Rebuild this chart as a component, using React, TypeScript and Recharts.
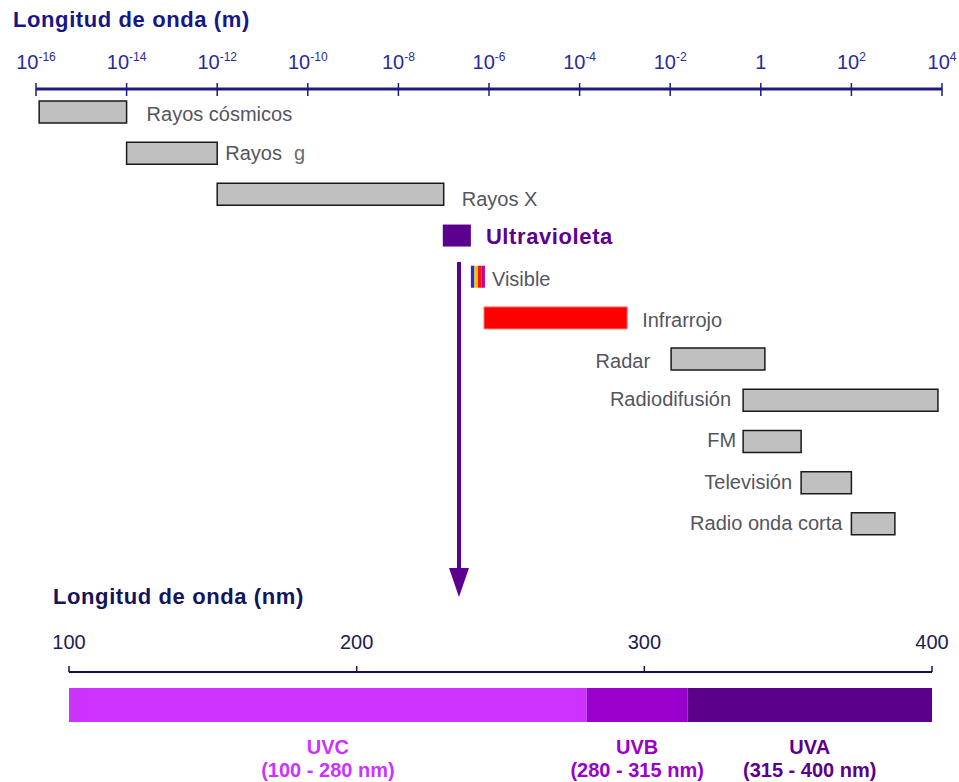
import React from 'react';
import { BarChart, Bar, XAxis, YAxis, LabelList, Rectangle } from 'recharts';

// wavelength bands, in powers of ten (metres)
const bandNames = [
  'Rayos cósmicos',
  'Rayos g',
  'Rayos X',
  'Ultravioleta',
  'Visible',
  'Infrarrojo',
  'Radar',
  'Radiodifusión',
  'FM',
  'Televisión',
  'Radio onda corta',
];
const bandFrom = [-15.93, -14, -12, -7.02, -6.4, -6.11, -1.98, -0.39, -0.39, 0.89, 2.0];
const bandTo = [-14, -12, -7.0, -6.4, -6.09, -2.95, 0.09, 3.91, 0.89, 2.0, 2.96];
const expTicks = [-16, -14, -12, -10, -8, -6, -4, -2, 0, 2, 4];

// ultraviolet detail (nm)
const uvNames = ['UVC', 'UVB', 'UVA'];
const uvFrom = [100, 280, 315];
const uvTo = [280, 315, 400];
const nmTicks = [100, 200, 300, 400];

const spectrum = bandNames.map((name, i) => ({ name, range: [bandFrom[i], bandTo[i]] }));
const uvRow = [
  uvNames.reduce((row: any, n, i) => ({ ...row, [n]: [uvFrom[i], uvTo[i]] }), { row: 'UV' }),
];

const FONT = '"Liberation Sans", Arial, sans-serif';
const NAVY = '#1c1c80';
const AXIS_Y = 89;
// bottom chart is placed at top=620, so its axis sits at 52 inside its own svg
const UV_TOP = 620;
const AXIS2_Y = 672 - UV_TOP;

const barLook: Record<string, any> = {
  Ultravioleta: { fill: '#5c0090', stroke: 'none' },
  Infrarrojo: { fill: '#ff0000', stroke: '#ff7070', strokeWidth: 1 },
};
const grayLook = { fill: '#c0c0c0', stroke: '#1a1a1a', strokeWidth: 1.5 };
const visibleStripes = ['#2b2bdc', '#f5c400', '#f01818', '#c8008c'];

const labelLook: Record<string, { side: 'left' | 'right'; gap: number; dy: number }> = {
  'Rayos cósmicos': { side: 'right', gap: 20, dy: 2 },
  'Rayos g': { side: 'right', gap: 8, dy: 0 },
  'Rayos X': { side: 'right', gap: 18, dy: 5 },
  Ultravioleta: { side: 'right', gap: 15, dy: 1 },
  Visible: { side: 'right', gap: 7, dy: 2 },
  Infrarrojo: { side: 'right', gap: 15, dy: 2 },
  Radar: { side: 'left', gap: 21, dy: 2 },
  'Radiodifusión': { side: 'left', gap: 12, dy: -1 },
  FM: { side: 'left', gap: 7, dy: -1 },
  'Televisión': { side: 'left', gap: 9, dy: -1 },
  'Radio onda corta': { side: 'left', gap: 9, dy: -1 },
};

const uvColors = ['#cc33ff', '#9900cc', '#5c008c'];

const BandShape = (props: any) => {
  const { x, y, width, height, index } = props;
  const name = spectrum[index].name;
  if (name === 'Visible') {
    const w = width / visibleStripes.length;
    return (
      <g>
        {visibleStripes.map((c, i) => (
          <rect key={c} x={x + i * w} y={y} width={w} height={height} fill={c} />
        ))}
      </g>
    );
  }
  const look = barLook[name] || grayLook;
  return <Rectangle x={x} y={y} width={width} height={height} {...look} />;
};

const BandLabel = (props: any) => {
  const { x, y, width, height, index } = props;
  const name = spectrum[index].name;
  const lk = labelLook[name];
  const isUv = name === 'Ultravioleta';
  const tx = lk.side === 'right' ? x + width + lk.gap : x - lk.gap;
  const ty = y + height / 2 + 7 + lk.dy;
  return (
    <text
      x={tx}
      y={ty}
      textAnchor={lk.side === 'right' ? 'start' : 'end'}
      fontFamily={FONT}
      fontSize={isUv ? 22 : 20}
      fontWeight={isUv ? 'bold' : 'normal'}
      fill={isUv ? '#5c0090' : '#555560'}
      letterSpacing={isUv ? 0.6 : 0}
    >
      {name === 'Rayos g' ? (
        <>
          Rayos<tspan dx={12} fill="#6a6a6a">g</tspan>
        </>
      ) : (
        name
      )}
    </text>
  );
};

const ExpTick = (props: any) => {
  const { x, payload } = props;
  const v = payload.value;
  return (
    <g>
      <line x1={x} x2={x} y1={AXIS_Y - 6} y2={AXIS_Y + 7} stroke={NAVY} strokeWidth={1.5} />
      <text x={x} y={69} textAnchor="middle" fontFamily={FONT} fontSize={20} fill="#2a2aa0">
        {v === 0 ? (
          '1'
        ) : (
          <>
            10
            <tspan fontSize={12} dy={-8}>
              {String(v)}
            </tspan>
          </>
        )}
      </text>
    </g>
  );
};

const NmTick = (props: any) => {
  const { x, payload } = props;
  return (
    <g>
      <line x1={x} x2={x} y1={AXIS2_Y - 6} y2={AXIS2_Y} stroke="#10105a" strokeWidth={1.5} />
      <text x={x} y={AXIS2_Y - 23} textAnchor="middle" fontFamily={FONT} fontSize={20} fill="#20204e">
        {payload.value}
      </text>
    </g>
  );
};

const uvLabel = (i: number) => (props: any) => {
  const { x, y, width, height } = props;
  const cx = x + width / 2;
  return (
    <g fontFamily={FONT} fontSize={20} fontWeight="bold" fill={uvColors[i]} textAnchor="middle">
      <text x={cx} y={y + height + 32}>{uvNames[i]}</text>
      <text x={cx} y={y + height + 55}>{`(${uvFrom[i]} - ${uvTo[i]} nm)`}</text>
    </g>
  );
};

export default function App() {
  return (
    <div style={{ position: 'relative', width: 959, height: 782, background: '#fff', fontFamily: FONT }}>
      <style>{'body{margin:0}'}</style>

      <div
        style={{
          position: 'absolute',
          left: 13,
          top: 6,
          fontSize: 22,
          fontWeight: 'bold',
          color: '#161688',
          letterSpacing: 0.6,
          lineHeight: '28px',
        }}
      >
        Longitud de onda (m)
      </div>

      <div style={{ position: 'absolute', left: 0, top: 0 }}>
        <BarChart
          width={959}
          height={560}
          data={spectrum}
          layout="vertical"
          margin={{ top: 49, right: 17, left: 36, bottom: 16 }}
          barSize={22}
        >
          <XAxis
            type="number"
            orientation="top"
            domain={[-16, 4]}
            ticks={expTicks}
            height={40}
            interval={0}
            axisLine={{ stroke: NAVY, strokeWidth: 3 }}
            tickLine={false}
            tick={<ExpTick />}
          />
          <YAxis type="category" dataKey="name" hide padding={{ top: 2, bottom: 0 }} />
          <Bar dataKey="range" isAnimationActive={false} shape={<BandShape />}>
            <LabelList dataKey="name" content={<BandLabel />} />
          </Bar>
        </BarChart>
      </div>

      <div
        style={{
          position: 'absolute',
          left: 53,
          top: 583,
          fontSize: 22,
          fontWeight: 'bold',
          color: '#14145c',
          letterSpacing: 0.6,
          lineHeight: '28px',
        }}
      >
        Longitud de onda (nm)
      </div>

      <div style={{ position: 'absolute', left: 0, top: UV_TOP }}>
        <BarChart
          width={959}
          height={162}
          data={uvRow}
          layout="vertical"
          margin={{ top: 12, right: 27, left: 69, bottom: 44 }}
          barSize={34}
          barGap={-34}
        >
          <XAxis
            type="number"
            orientation="top"
            domain={[100, 400]}
            ticks={nmTicks}
            height={40}
            interval={0}
            axisLine={{ stroke: '#10105a', strokeWidth: 2 }}
            tickLine={false}
            tick={<NmTick />}
          />
          <YAxis type="category" dataKey="row" hide />
          {uvNames.map((n, i) => (
            <Bar key={n} dataKey={n} fill={uvColors[i]} barSize={34} isAnimationActive={false}>
              <LabelList dataKey={n} content={uvLabel(i)} />
            </Bar>
          ))}
        </BarChart>
      </div>

      <svg
        width={959}
        height={782}
        style={{ position: 'absolute', left: 0, top: 0, pointerEvents: 'none' }}
      >
        <line x1={459} x2={459} y1={262} y2={572} stroke="#5c0090" strokeWidth={4} />
        <polygon points="449,568 469,568 459,597" fill="#5c0090" />
      </svg>
    </div>
  );
}
